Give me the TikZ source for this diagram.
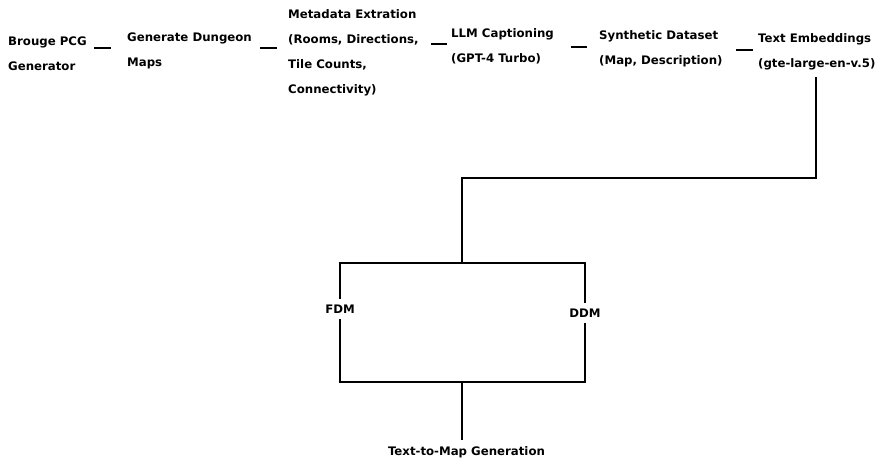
\documentclass[tikz,border=0pt]{standalone}
\usepackage{fontspec}
\setmainfont{DejaVu Sans}
\newcommand\mlines[1]{\begin{tabular}[t]{@{}l@{}}#1\end{tabular}}
\begin{document}
\begin{tikzpicture}[x=1pt,y=-1pt,
  lbl/.style={inner sep=0pt, anchor=base west, font=\fontsize{11.75}{25}\selectfont\bfseries},
  wire/.style={line width=2pt, line cap=butt, line join=miter},
  onwire/.style={inner xsep=0pt, inner ysep=5.5pt, font=\fontsize{11.75}{14}\selectfont\bfseries}]
\useasboundingbox[fill=white] (0,0) rectangle (881,458);
% pipeline blocks
\node[lbl] (pcg)  at (8,45.5)   {\mlines{Brouge PCG\\Generator}};
\node[lbl] (gen)  at (127,41)   {\mlines{Generate Dungeon\\Maps}};
\node[lbl] (meta) at (288,18.3) {\mlines{Metadata Extration\\(Rooms, Directions,\\Tile Counts,\\Connectivity)}};
\node[lbl] (llm)  at (451,37.5) {\mlines{LLM Captioning\\(GPT-4 Turbo)}};
\node[lbl] (syn)  at (599,39.5) {\mlines{Synthetic Dataset\\(Map, Description)}};
\node[lbl] (emb)  at (758,42)   {\mlines{Text Embeddings\\(gte-large-en-v.5)}};
% short dash connectors
\coordinate (d1a) at (94,48);  \coordinate (d1b) at (111,48);
\coordinate (d2a) at (260,48); \coordinate (d2b) at (277,48);
\coordinate (d3a) at (431,44); \coordinate (d3b) at (447,44);
\coordinate (d4a) at (571,47); \coordinate (d4b) at (587,47);
\coordinate (d5a) at (736,50); \coordinate (d5b) at (753,50);
\foreach \d in {1,...,5} \draw[wire] (d\d a) -- (d\d b);
% lower part
\coordinate (etop) at (816,77);
\coordinate (bend) at (462,178);
\coordinate (tl) at (340,263);
\coordinate (tr) at (585,263);
\coordinate (bl) at (340,382);
\coordinate (br) at (585,382);
\coordinate (tm) at (462,263);
\coordinate (bm) at (462,382);
\coordinate (tend) at (462,440);
\node[onwire] (fdm) at (340,309) {FDM};
\node[onwire] (ddm) at (585,313) {DDM};
\node[inner sep=0pt, anchor=base, font=\fontsize{11.75}{14}\selectfont\bfseries] (ttm) at (466.5,455) {Text-to-Map Generation};
\draw[wire] (etop) |- (bend) -- (tm);
\draw[wire] (fdm.north) -- (tl) -- (tr) -- (ddm.north);
\draw[wire] (ddm.south) -- (br) -- (bl) -- (fdm.south);
\draw[wire] (bm) -- (tend);
\end{tikzpicture}
\end{document}
